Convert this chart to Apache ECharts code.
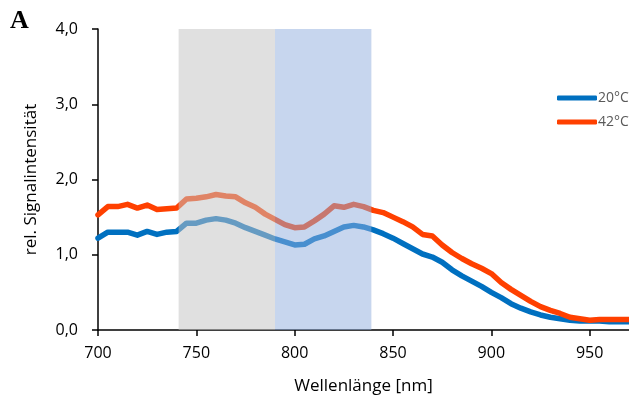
<!DOCTYPE html>
<html>
<head>
<meta charset="utf-8">
<script src="https://cdn.jsdelivr.net/npm/echarts@6/dist/echarts.min.js"></script>
<style>html,body{margin:0;padding:0;background:#fff}#c{width:629px;height:410px}</style>
</head>
<body>
<div id="c"></div>
<script>
const wavelengths = [700,705,710,715,720,725,730,735,740,745,750,755,760,765,770,775,780,785,790,795,800,805,810,815,820,825,830,835,840,845,850,855,860,865,870,875,880,885,890,895,900,905,910,915,920,925,930,935,940,945,950,955,960,965,970];
const values20 = [1.22,1.30,1.30,1.30,1.26,1.31,1.27,1.30,1.31,1.42,1.42,1.46,1.48,1.46,1.42,1.36,1.31,1.26,1.21,1.17,1.13,1.14,1.21,1.25,1.31,1.37,1.39,1.37,1.33,1.28,1.22,1.15,1.08,1.01,0.97,0.90,0.80,0.72,0.65,0.58,0.50,0.43,0.35,0.29,0.24,0.20,0.17,0.15,0.13,0.12,0.12,0.12,0.11,0.11,0.11];
const values42 = [1.53,1.64,1.64,1.67,1.62,1.66,1.60,1.61,1.62,1.74,1.75,1.77,1.80,1.78,1.77,1.69,1.63,1.54,1.47,1.40,1.36,1.37,1.45,1.54,1.65,1.63,1.67,1.64,1.59,1.56,1.50,1.44,1.37,1.27,1.25,1.13,1.03,0.95,0.88,0.82,0.75,0.63,0.54,0.46,0.38,0.31,0.26,0.22,0.17,0.15,0.13,0.14,0.14,0.14,0.14];
const seriesNames = ['20°C', '42°C'];
const grayBand = [741, 790];
const blueBand = [790, 839];
const xTicks = [700, 750, 800, 850, 900, 950];
const yTicks = [0, 1, 2, 3, 4];

const font = '"Open Sans", "Liberation Sans", sans-serif';
const chart = echarts.init(document.getElementById('c'), null, {renderer: 'canvas'});
const pair = (xs, ys) => xs.map((x, i) => [x, ys[i]]);

chart.setOption({
  animation: false,
  grid: {left: 98, right: 0, top: 29, bottom: 80, containLabel: false},
  graphic: [{
    type: 'text', left: 10, top: 8,
    style: {text: 'A', font: 'bold 26px "Liberation Serif", serif', fill: '#000'}
  }],
  legend: {
    orient: 'vertical', left: 552, top: 86, itemGap: 10,
    itemWidth: 40, itemHeight: 5, icon: 'roundRect',
    textStyle: {fontFamily: font, fontSize: 14, color: '#595959', padding: [0,0,0,-4]},
    data: seriesNames
  },
  xAxis: {
    type: 'value', min: xTicks[0], max: 970, interval: 50,
    name: 'Wellenlänge [nm]', nameLocation: 'middle', nameGap: 48,
    nameTextStyle: {fontFamily: font, fontSize: 17, color: '#000'},
    axisLine: {show: true, onZero: false, lineStyle: {color: '#000', width: 1.5}},
    axisTick: {show: true, length: 6, lineStyle: {color: '#000', width: 1.5}},
    axisLabel: {fontFamily: font, fontSize: 16, color: '#000', margin: 15, showMaxLabel: false,
      formatter: v => xTicks.includes(v) ? String(v) : ''},
    splitLine: {show: false}
  },
  yAxis: {
    type: 'value', min: yTicks[0], max: yTicks[yTicks.length-1], interval: 1,
    name: 'rel. Signalintensität', nameLocation: 'middle', nameGap: 58,
    nameTextStyle: {fontFamily: font, fontSize: 17, color: '#000'},
    axisLine: {show: true, lineStyle: {color: '#000', width: 1.5}},
    axisTick: {show: true, length: 6, lineStyle: {color: '#000', width: 1.5}},
    axisLabel: {fontFamily: font, fontSize: 16, color: '#000', margin: 20,
      formatter: v => v.toFixed(1).replace('.', ',')},
    splitLine: {show: false}
  },
  series: [
    {name: seriesNames[0], type: 'line', data: pair(wavelengths, values20), showSymbol: false,
      lineStyle: {color: '#0070C0', width: 5.5, cap: 'round', join: 'round'}, itemStyle: {color: '#0070C0'}, z: 2},
    {name: seriesNames[1], type: 'line', data: pair(wavelengths, values42), showSymbol: false,
      lineStyle: {color: '#FF4000', width: 5.5, cap: 'round', join: 'round'}, itemStyle: {color: '#FF4000'}, z: 3},
    {name: 'bands', type: 'line', data: [], z: 10, silent: true,
      markArea: {silent: true, z: 10,
        data: [
          [{xAxis: grayBand[0], itemStyle: {color: 'rgba(196,196,196,0.52)'}}, {xAxis: grayBand[1]}],
          [{xAxis: blueBand[0], itemStyle: {color: 'rgba(143,173,222,0.5)'}}, {xAxis: blueBand[1]}]
        ]}}
  ]
});
</script>
</body>
</html>
